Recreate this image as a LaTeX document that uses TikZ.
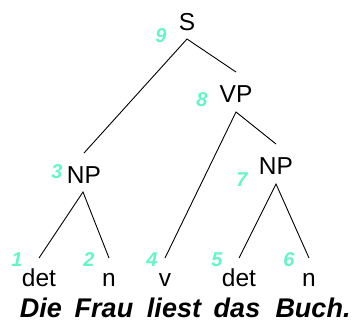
\documentclass[tikz,border=0pt]{standalone}
\usepackage{fontspec}
\setmainfont{Liberation Sans}
\definecolor{numcol}{RGB}{100,245,200}
\begin{document}
\begin{tikzpicture}[x=1pt,y=-1pt,
  lab/.style={inner sep=0pt, anchor=base, font=\fontsize{24.5}{24.5}\selectfont},
  num/.style={inner sep=0pt, anchor=base, text=numcol, font=\fontsize{20}{20}\selectfont\bfseries\itshape},
  word/.style={inner sep=0pt, anchor=base, font=\fontsize{27}{27}\selectfont\bfseries\itshape},
  edge/.style={draw=black, line width=0.9pt}]
\useasboundingbox (0,0) rectangle (353,322);
% category labels
\node[lab] (S) at (187,30) {S};
\node[lab] (VP) at (236,102) {VP};
\node[lab] (NPr) at (276,174) {NP};
\node[lab] (NPl) at (84,183) {NP};
\node[lab] (det1) at (39,286) {det};
\node[lab] (n1) at (109,286) {n};
\node[lab] (v) at (165,286) {v};
\node[lab] (det2) at (239,286) {det};
\node[lab] (n2) at (309,286) {n};
% numbers
\node[num] (k9) at (161,42) {9};
\node[num] (k8) at (202,106) {8};
\node[num] (k3) at (57,178) {3};
\node[num] (k7) at (242,186) {7};
\node[num] (k1) at (17,266) {1};
\node[num] (k2) at (89,266) {2};
\node[num] (k4) at (152,266) {4};
\node[num] (k5) at (217,266) {5};
\node[num] (k6) at (289,266) {6};
% sentence
\node[word] (w1) at (41,317) {Die};
\node[word] (w2) at (104,317) {Frau};
\node[word] (w3) at (174,317) {liest};
\node[word] (w4) at (237,317) {das};
\node[word] (w5) at (313,317) {Buch.};
% connector points
\coordinate (S-b) at (187,39);
\coordinate (VP-b) at (236,112);
\coordinate (NPr-b) at (276,184);
\coordinate (NPl-b) at (83,192);
\coordinate (VP-t) at (236,72);
\coordinate (NPl-t) at (84,153);
\coordinate (NPr-t) at (276,144);
\coordinate (det1-t) at (39,258);
\coordinate (n1-t) at (109,258);
\coordinate (v-t) at (165,258);
\coordinate (det2-t) at (239,258);
\coordinate (n2-t) at (309,258);
\draw[edge] (NPl-t) -- (S-b) -- (VP-t);
\draw[edge] (v-t) -- (VP-b) -- (NPr-t);
\draw[edge] (det2-t) -- (NPr-b) -- (n2-t);
\draw[edge] (det1-t) -- (NPl-b) -- (n1-t);
\end{tikzpicture}
\end{document}
